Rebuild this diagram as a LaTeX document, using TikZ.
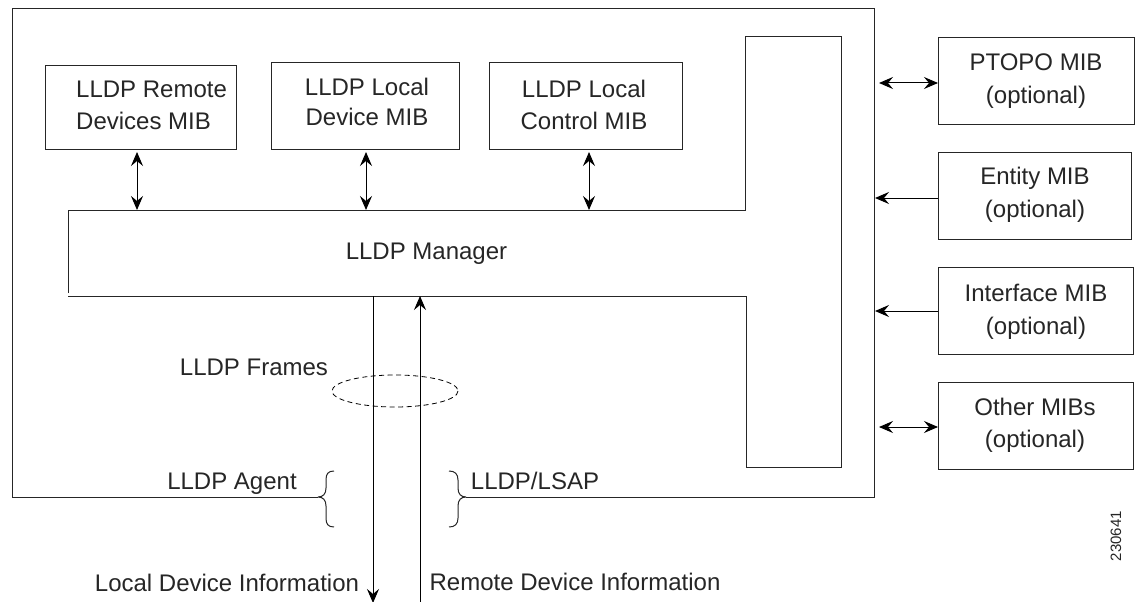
\documentclass[tikz,border=0pt]{standalone}
\usepackage{fontspec}
\setmainfont{Liberation Sans}
\usetikzlibrary{arrows.meta}
\tikzset{
  x=1pt,y=-1pt,
  ln/.style={line width=1pt,draw=black!85},
  conn/.style={line width=1pt,draw=black,{Stealth[length=14pt,width=12pt,inset=5pt]}-{Stealth[length=14pt,width=12pt,inset=5pt]}},
  connb/.style={line width=1pt,draw=black,-{Stealth[length=14pt,width=12pt,inset=5pt]}},
  boxn/.style={draw=black!85,line width=1pt,rectangle,anchor=north west,inner sep=0pt},
  txt/.style={font=\fontsize{24}{32.5}\selectfont,align=center,text=black!85,inner sep=0pt},
  dash ell/.style={line width=0.8pt,draw=black,dash pattern=on 5pt off 3.5pt},
}
\begin{document}
\begin{tikzpicture}
\useasboundingbox (0,0) rectangle (1141,602);
\fill[white] (0,0) rectangle (1141,602);
% frame
\coordinate (fl) at (318,497);
\coordinate (fr) at (466,497);
\draw[ln] (fl) -- (12.5,497) -- (12.5,9) -- (874,9) -- (874,497) -- (fr);
% T shape
\draw[ln] (68,293) -- (68,210) -- (745,210) -- (745,37) -- (841,37) -- (841,467) -- (746,467) -- (746,296) -- (68,296);
\coordinate (mgrA) at (137,210);
\coordinate (mgrB) at (366,210);
\coordinate (mgrC) at (589,210);
\coordinate (mgrD) at (373,296);
\coordinate (mgrE) at (420,296);
\coordinate (outD) at (373,603);
\coordinate (outE) at (420,602);
% top boxes
\node[boxn,minimum width=191pt,minimum height=84pt] (b1) at (45,65) {};
\node[boxn,minimum width=188pt,minimum height=87pt] (b2) at (271,62) {};
\node[boxn,minimum width=193pt,minimum height=87pt] (b3) at (489,62) {};
\node[txt,align=left,anchor=west] (t1) at (76,105.5) {LLDP Remote\\Devices MIB};
\node[txt,font=\fontsize{24}{29.5}\selectfont] (t2) at (367,102) {LLDP Local\\Device MIB};
\node[txt] (t3) at (584,105) {LLDP Local\\Control MIB};
\coordinate (topA) at (137,152);
\coordinate (topB) at (366,152);
\coordinate (topC) at (589,152);
\draw[conn] (topA) -- (mgrA);
\draw[conn] (topB) -- (mgrB);
\draw[conn] (topC) -- (mgrC);
% right boxes
\node[boxn,minimum width=196pt,minimum height=87pt] (r1) at (938,37) {};
\node[boxn,minimum width=193pt,minimum height=87pt] (r2) at (938,152) {};
\node[boxn,minimum width=195pt,minimum height=87pt] (r3) at (938,267) {};
\node[boxn,minimum width=195pt,minimum height=87pt] (r4) at (938,382) {};
\node[txt] (rt1) at (1036,81) {PTOPO MIB\\(optional)};
\node[txt] (rt2) at (1035,195) {Entity MIB\\(optional)};
\node[txt] (rt3) at (1036,312) {Interface MIB\\(optional)};
\node[txt] (rt4) at (1035,425.5) {Other MIBs\\(optional)};
\coordinate (e1) at (879,83);
\coordinate (e2) at (875,198);
\coordinate (e3) at (875,311);
\coordinate (e4) at (879,427);
\draw[conn] (e1) -- (e1 -| r1.west);
\draw[connb] (e2 -| r2.west) -- (e2);
\draw[connb] (e3 -| r3.west) -- (e3);
\draw[conn] (e4) -- (e4 -| r4.west);
% centre
\node[txt] (mgr) at (426.5,254) {LLDP Manager};
\draw[connb] (mgrD) -- (outD);
\draw[connb] (outE) -- (mgrE);
\draw[dash ell] (395,391) ellipse [x radius=63,y radius=16];
\node[txt] (frames) at (254,367) {LLDP Frames};
\node[txt] (agent) at (232,484) {LLDP Agent};
\node[txt] (lsap) at (535,481) {LLDP/LSAP};
\node[txt] (local) at (227,583) {Local Device Information};
\node[txt] (remote) at (575,582) {Remote Device Information};
\node[txt,font=\fontsize{15}{18}\selectfont,rotate=90] (num) at (1116,536) {230641};
% braces
\draw[ln] (334,471) .. controls (328,471) and (326,474) .. (326,480) -- (326,488) .. controls (326,494) and (323,497) .. (fl)
  (fl) .. controls (323,497) and (326,500) .. (326,506) -- (326,518) .. controls (326,524) and (328,527) .. (334,527);
\draw[ln] (449,471) .. controls (455,471) and (458,474) .. (458,480) -- (458,488) .. controls (458,494) and (461,497) .. (fr)
  (fr) .. controls (461,497) and (458,500) .. (458,506) -- (458,518) .. controls (458,524) and (455,527) .. (449,527);
\end{tikzpicture}
\end{document}
